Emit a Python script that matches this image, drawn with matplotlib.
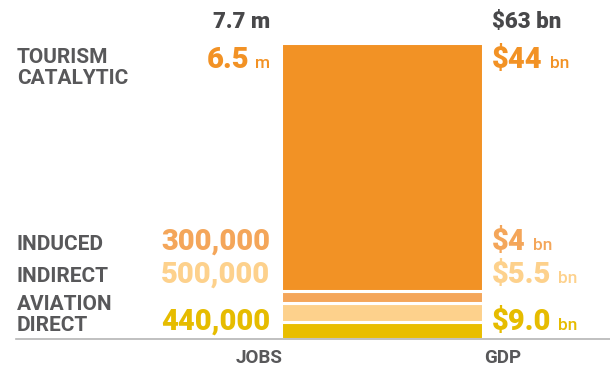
import matplotlib
matplotlib.use("Agg")
import matplotlib.pyplot as plt
from matplotlib.lines import Line2D

# stacked segments, bottom to top (jobs in millions)
segments = ["AVIATION\nDIRECT", "INDIRECT", "INDUCED", "TOURISM\nCATALYTIC"]
jobs_m = [0.44, 0.5, 0.3, 6.5]
job_labels = ["440,000", "500,000", "300,000", "6.5"]
job_units = ["", "", "", "m"]
gdp_labels = ["$9.0", "$5.5", "$4", "$44"]
gdp_units = ["bn", "bn", "bn", "bn"]
total_jobs = "7.7 m"
total_gdp = "$63 bn"
seg_colors = ["#E9BE00", "#FDD18C", "#F4A65A", "#F29225"]
txt_colors = ["#E6BC00", "#FDD18C", "#F4A65A", "#F29225"]
value_base = [330, 283, 250, 68]       # value baselines (px from top)
name_base = [310, 282, 250, 63]        # first line baseline of the names

W, H = 610, 369
fig = plt.figure(figsize=(W / 100, H / 100), dpi=100)
plt.rcParams['font.family'] = ['Roboto', 'DejaVu Sans']
gray = "#58585a"
dark = "#48484a"


def fx(x):
    return x / W


def fy(y):
    return 1 - y / H


ax = fig.add_axes([fx(281), fy(338.5), fx(202), (338.5 - 43) / H])
bottom = 0
for v, c in zip(jobs_m, seg_colors):
    ax.bar(0, v, bottom=bottom, width=1, color=c, edgecolor="white", linewidth=2.2)
    bottom += v
ax.set_xlim(-0.5, 0.5)
ax.set_ylim(0, sum(jobs_m))
ax.axis("off")

fig.add_artist(Line2D([fx(16), fx(610)], [fy(338.5), fy(338.5)], color="#b5b5b5", lw=1.2))

fig.canvas.draw()
r = fig.canvas.get_renderer()

big = 21
small = 12.5
for name, nb, jl, ju, gl, gu, vb, tc in zip(segments, name_base, job_labels, job_units,
                                            gdp_labels, gdp_units, value_base, txt_colors):
    for k, line in enumerate(name.split("\n")):
        fig.text(fx(17), fy(nb + 21 * k), line, ha="left", va="baseline", fontsize=15,
                 fontweight="bold", color=gray)
    # jobs value, right aligned at x=270
    xr = 270
    if ju:
        t = fig.text(fx(xr), fy(vb), ju, ha="right", va="baseline", fontsize=small,
                     color=tc, fontweight="medium")
        xr = t.get_window_extent(r).x0 - 6
    fig.text(fx(xr), fy(vb), jl, ha="right", va="baseline", fontsize=big,
             fontweight="heavy", color=tc)
    # gdp value, left aligned at x=492
    t = fig.text(fx(492), fy(vb), gl, ha="left", va="baseline", fontsize=big,
                 fontweight="heavy", color=tc)
    x1 = t.get_window_extent(r).x1 + 7
    fig.text(x1 / W, fy(vb), gu, ha="left", va="baseline", fontsize=small,
             color=tc, fontweight="medium")

fig.text(fx(270), fy(28), total_jobs, ha="right", va="baseline", fontsize=16,
         fontweight="heavy", color=dark)
fig.text(fx(492), fy(28), total_gdp, ha="left", va="baseline", fontsize=16,
         fontweight="heavy", color=dark)
fig.text(fx(282), fy(363), "JOBS", ha="right", va="baseline", fontsize=13.5,
         fontweight="bold", color=gray)
fig.text(fx(484), fy(363), "GDP", ha="left", va="baseline", fontsize=13.5,
         fontweight="bold", color=gray)

fig.savefig("out.png", dpi=100)
